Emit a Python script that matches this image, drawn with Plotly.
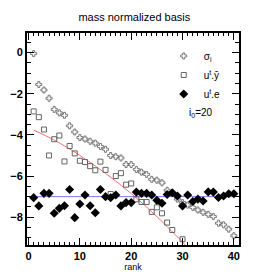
import plotly.graph_objects as go

# ---- data ----
rank = list(range(1, 41))

sigma = [-0.05, -1.55, -1.82, -2.22, -2.76, -2.93, -3.05, -3.56, -3.86, -4.13,
         -4.20, -4.31, -4.40, -4.56, -4.70, -5.00, -5.06, -5.12, -5.44, -5.44,
         -5.68, -5.81, -5.92, -6.16, -6.20, -6.33, -6.69, -6.82, -7.12, -7.29,
         -7.41, -7.52, -7.65, -7.76, -7.86, -7.97, -8.29, -8.37, -8.58, -8.90]

uty = [-2.86, -3.14, -3.74, -5.00, -4.21, -4.03, -5.29, -4.54, -4.90, -5.26,
       -5.32, -5.52, -5.72, -5.30, -5.70, -6.87, -6.00, -5.86, -6.42, -6.36,
       -7.13, -7.26, -7.26, -7.74, -7.52, -7.81, -8.26, -8.62, None, -9.07,
       None, None, None, None, None, None, None, None, None, None]

ute = [-7.05, -7.45, -6.84, -6.84, -7.81, -7.57, -7.44, -6.65, -8.02, -7.36,
       -6.92, -7.44, -7.78, -6.65, -7.00, -7.05, -6.92, -7.45, -7.29, -7.29,
       -6.78, -6.84, -6.84, -6.92, -7.18, -7.32, -6.90, -6.81, -6.97, -7.45,
       -6.92, -7.24, -7.12, -7.21, -6.77, -6.78, -7.04, -6.97, -6.86, -6.86]

# red fitted curve
fit_x = [1, 5, 10, 15, 20, 25, 30, 31]
fit_y = [-3.77, -4.25, -5.00, -5.87, -6.85, -7.97, -9.21, -9.48]

# blue noise level
noise_x = [1, 40]
noise_y = [-7.0, -7.0]

i0_label = "i<sub>0</sub>=20"

FONT = "Liberation Sans, Arial, Helvetica, sans-serif"

fig = go.Figure()

fig.add_trace(go.Scatter(x=fit_x, y=fit_y, mode="lines", line=dict(color="rgb(245,110,110)", width=1, shape="spline"),
                         showlegend=False, hoverinfo="skip"))
fig.add_trace(go.Scatter(x=noise_x, y=noise_y, mode="lines", line=dict(color="rgb(120,120,245)", width=1),
                         showlegend=False, hoverinfo="skip"))

fig.add_trace(go.Scatter(x=rank, y=sigma, mode="markers", name="σ<sub>i</sub>",
                         marker=dict(symbol="cross-open", size=5, color="rgb(120,120,120)", line=dict(width=1))))
fig.add_trace(go.Scatter(x=rank, y=uty, mode="markers", name="u<sup>t</sup>.ȳ",
                         marker=dict(symbol="square-open", size=5, color="rgb(100,100,100)", line=dict(width=1))))
fig.add_trace(go.Scatter(x=rank, y=ute, mode="markers", name="u<sup>t</sup>.e",
                         marker=dict(symbol="diamond", size=7, color="black")))

axis_common = dict(
    showline=True, linewidth=2, linecolor="black", mirror="allticks",
    ticks="inside", ticklen=7, tickwidth=1, tickcolor="black",
    showgrid=False, zeroline=False, automargin=False,
    tickfont=dict(family=FONT, size=11, color="black", weight="bold"),
)

fig.update_xaxes(range=[-0.3, 41], tickvals=[0, 10, 20, 30, 40],
                 minor=dict(dtick=1, ticks="inside", ticklen=3, tickcolor="black", showgrid=False),
                 title=dict(text="rank", font=dict(family=FONT, size=9, color="black"), standoff=2),
                 **axis_common)
fig.update_yaxes(range=[-9.35, 0.95], tickvals=[0, -2, -4, -6, -8],
                 minor=dict(dtick=0.5, ticks="inside", ticklen=4, tickcolor="black", showgrid=False),
                 ticklabelstandoff=0,
                 **axis_common)

fig.add_annotation(text=i0_label, xref="paper", yref="paper", x=0.755, y=0.623,
                   xanchor="left", yanchor="middle", showarrow=False,
                   font=dict(family=FONT, size=10, color="black"))

fig.update_layout(
    width=266, height=275,
    margin=dict(l=27, r=27, t=33, b=30),
    paper_bgcolor="white", plot_bgcolor="white",
    title=dict(text="mass normalized basis", x=0.505, xanchor="center", y=0.938, yanchor="middle",
               font=dict(family=FONT, size=11, color="black")),
    legend=dict(x=0.645, y=0.96, xanchor="left", yanchor="top", bgcolor="rgba(0,0,0,0)",
                font=dict(family=FONT, size=10, color="black"), itemwidth=30),
    font=dict(family=FONT),
)

fig.write_html("out.html",
               config={"staticPlot": True, "displayModeBar": False},
               post_script="document.body.style.margin='0px';document.body.style.overflow='hidden';")
